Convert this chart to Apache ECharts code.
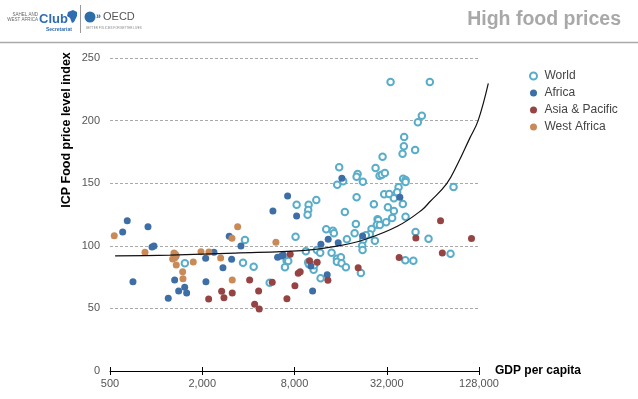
<!DOCTYPE html>
<html lang="en">
<head>
    <meta charset="UTF-8">
    <title>High food prices</title>
    <style>
        html, body { margin: 0; padding: 0; background: #fff; }
    </style>
</head>
<body>
    <div id="main" style="width: 638px;height:399px;"></div>
    <script src="https://cdn.jsdelivr.net/npm/echarts/dist/echarts.min.js"></script>
    <script type="text/javascript">
       // x axis is GDP per capita on a base-4 log scale starting at 500
       var xTickValues = [500, 2000, 8000, 32000, 128000];
       var xTickLabels = ['500', '2,000', '8,000', '32,000', '128,000'];
       var yTicks = [0, 50, 100, 150, 200, 250];
       var seriesNames = ['World', 'Africa', 'Asia & Pacific', 'West Africa'];

       // [GDP per capita, ICP food price level index]
       var world = [
           [1540, 86], [8260, 132.8], [9890, 132.8], [9830, 128.6], [9740, 124.8], [11100, 136.6],
           [17050, 127], [8130, 107.3], [3800, 104.6], [3690, 86.5], [4330, 83.3], [9490, 95.6],
           [11200, 96.6], [11770, 94.5], [12880, 113.2], [14250, 112.1], [14460, 110], [17580, 105.2],
           [20120, 117.4], [19740, 110], [22460, 104.6], [22120, 100.1], [22250, 96.6], [13970, 94.5],
           [7110, 88.1], [7280, 87.9], [6930, 82.8], [9830, 86.8], [9930, 85.2], [10660, 80.9],
           [10760, 84.4], [15130, 89.7], [16060, 90.8], [15130, 87.3], [16230, 86], [17320, 82.8],
           [11840, 74], [5510, 70.5], [21690, 78.3], [33890, 230.8], [61150, 230.8], [54220, 203.9],
           [51060, 198.6], [41570, 186.9], [41380, 179.5], [40580, 173.6], [49030, 176.5], [30050, 171.2],
           [15660, 162.7], [27050, 162.1], [20650, 157.3], [20340, 155.2], [22350, 151.2], [16630, 151.5],
           [15200, 148.8], [28720, 156], [29730, 156.8], [31110, 158.1], [40950, 153.6], [42450, 152.6],
           [42450, 151], [38220, 146.7], [37420, 142.7], [30780, 141.1], [33190, 141.4], [35620, 137.9],
           [20340, 138.7], [87300, 147], [40760, 133.4], [26370, 133.1], [32550, 130.7], [35620, 127.8],
           [42450, 123.2], [34710, 122.2], [27870, 121.2], [28150, 120.4], [27580, 116.8], [28850, 116.6],
           [31720, 118.8], [25470, 113.4], [24830, 109.2], [23380, 108.4], [26770, 104.1], [49330, 111],
           [59950, 105.7], [83450, 93.7], [42300, 88.4], [47730, 88.1]
       ];
       var africa = [
           [648, 120], [605, 111], [885, 115.3], [940, 99], [968, 99.8], [706, 71.3], [1200, 58.1],
           [1321, 72.7], [1403, 63.9], [1536, 66.9], [1582, 62.3], [2105, 90], [2114, 71.3], [2384, 94.8],
           [2730, 82.5], [3110, 89.2], [3000, 107.6], [1347, 91.9], [5785, 127.8], [8257, 123.8],
           [3577, 99.8], [6207, 90.8], [6590, 91.9], [6752, 92.6], [11895, 101.2], [13275, 105.2],
           [15425, 102.5], [10236, 83.9], [13075, 76.9], [10500, 63.9], [22250, 107.8], [16305, 153.9],
           [38965, 138.7], [7213, 139.8]
       ];
       var asiaPacific = [
           [2202, 57.5], [2677, 63.7], [2771, 58.5], [3139, 62.3], [7500, 93.2], [10035, 88.1],
           [11250, 86.8], [8460, 78], [8716, 79.3], [4076, 72.7], [5724, 70.8], [13215, 72.4],
           [8050, 68.1], [4666, 63.9], [7138, 57.7], [4394, 53.3], [4709, 49.5], [20830, 82.5],
           [71800, 120], [49550, 106.2], [114350, 105.8], [73760, 94.2], [38560, 90.7]
       ];
       var westAfrica = [
           [533, 108.1], [846, 94.8], [1308, 94.2], [1327, 93.4], [1347, 92.6], [1282, 89.5],
           [1327, 90.5], [1353, 84.7], [1490, 79.3], [1497, 73.7], [1747, 87.1], [1962, 95.3],
           [2212, 95], [2637, 90.3], [3125, 106], [3139, 72.7], [3404, 115.3], [6050, 102.8]
       ];
       // trend line (runs a little past 128,000)
       var trend = [
           [540, 92], [1230, 92.6], [3270, 94.2], [8940, 96.2], [15820, 100.2], [23000, 105],
           [37800, 115.8], [54220, 128.6], [61150, 135.2], [78600, 149.4], [93100, 165.7],
           [111500, 186], [126300, 200], [147200, 229.8]
       ];

       var colors = ['#5aadc9', '#3d6ea5', '#964443', '#c98a58'];
       var font = 'Helvetica, Arial, "Liberation Sans", sans-serif';

       function toX(g) {
           return Math.log(g / xTickValues[0]) / Math.log(4);
       }
       function conv(arr) {
           return arr.map(function (p) { return [toX(p[0]), p[1]]; });
       }

       var myChart = echarts.init(document.getElementById('main'));
       var xMax = xTickValues.length - 1;
       var gridLeft = 110, gridRight = 159, trendRight = 146;
       // second (hidden) grid, same scale, wider so the trend line is not cut at 128,000
       var trendMax = xMax * (638 - gridLeft - trendRight) / (638 - gridLeft - gridRight);

       var option = {
           animation: false,
           textStyle: { fontFamily: font },
           grid: [
               { left: gridLeft, right: gridRight, top: 58, bottom: 28, containLabel: false },
               { left: gridLeft, right: trendRight, top: 58, bottom: 28, containLabel: false }
           ],
           legend: {
               orient: 'vertical',
               left: 524,
               top: 65,
               itemWidth: 12,
               itemHeight: 7,
               itemGap: 5,
               textStyle: { color: '#444', fontSize: 12, fontFamily: font },
               data: [
                   { name: seriesNames[0], icon: 'emptyCircle' },
                   { name: seriesNames[1], icon: 'circle' },
                   { name: seriesNames[2], icon: 'circle' },
                   { name: seriesNames[3], icon: 'circle' }
               ]
           },
           xAxis: [{
               type: 'value',
               gridIndex: 0,
               min: 0,
               max: xMax,
               interval: 1,
               name: 'GDP per capita',
               nameLocation: 'end',
               nameGap: 16,
               nameTextStyle: { fontWeight: 'bold', fontSize: 12, color: '#000', fontFamily: font },
               axisLine: { lineStyle: { color: '#000', width: 1 } },
               axisTick: { length: 4, lineStyle: { color: '#000' } },
               axisLabel: {
                   color: '#555', fontSize: 11, margin: 7,
                   formatter: function (v) { return xTickLabels[Math.round(v)]; }
               },
               splitLine: { show: false }
           }, {
               type: 'value',
               gridIndex: 0,
               min: 0,
               max: xMax,
               interval: 1,
               position: 'bottom',
               axisLine: { show: false },
               axisTick: { inside: true, length: 4, lineStyle: { color: '#000' } },
               axisLabel: { show: false },
               splitLine: { show: false }
           }, {
               type: 'value',
               gridIndex: 1,
               min: 0,
               max: trendMax,
               show: false
           }],
           yAxis: [{
               type: 'value',
               gridIndex: 0,
               min: yTicks[0],
               max: yTicks[yTicks.length - 1],
               interval: yTicks[1] - yTicks[0],
               axisLine: { show: false },
               axisTick: { show: false },
               axisLabel: { color: '#555', fontSize: 11, margin: 10 },
               splitLine: {
                   lineStyle: { color: '#aaa', type: [3, 2], width: 1 }
               }
           }, {
               type: 'value',
               gridIndex: 1,
               min: yTicks[0],
               max: yTicks[yTicks.length - 1],
               show: false
           }],
           series: [{
               name: seriesNames[0],
               type: 'scatter',
               symbol: 'emptyCircle',
               symbolSize: 6.5,
               itemStyle: { color: colors[0], borderWidth: 1, opacity: 1 },
               data: conv(world)
           }, {
               name: seriesNames[1],
               type: 'scatter',
               symbolSize: 7,
               itemStyle: { color: colors[1], opacity: 1 },
               data: conv(africa)
           }, {
               name: seriesNames[2],
               type: 'scatter',
               symbolSize: 7,
               itemStyle: { color: colors[2], opacity: 1 },
               data: conv(asiaPacific)
           }, {
               name: seriesNames[3],
               type: 'scatter',
               symbolSize: 7,
               itemStyle: { color: colors[3], opacity: 1 },
               data: conv(westAfrica)
           }, {
               name: 'trend',
               type: 'line',
               xAxisIndex: 2,
               yAxisIndex: 1,
               smooth: 0.4,
               showSymbol: false,
               clip: false,
               lineStyle: { color: '#111', width: 1.2 },
               data: conv(trend),
               z: 5
           }],
           graphic: [
               // header rule and title
               { type: 'line', shape: { x1: 0, y1: 42.5, x2: 638, y2: 42.5 }, style: { stroke: '#aaa', lineWidth: 1.5 } },
               { type: 'text', x: 621, y: 20, style: { text: 'High food prices', fill: '#a8a8a8', font: 'bold 19.5px ' + font, textAlign: 'right', textVerticalAlign: 'middle' } },
               // logos
               { type: 'text', x: 38, y: 17.5, style: { text: 'SAHEL AND\nWEST AFRICA', fill: '#666', font: '4.5px ' + font, textAlign: 'right', textVerticalAlign: 'middle', lineHeight: 5 } },
               { type: 'text', x: 39, y: 19, style: { text: 'Club', fill: '#2f6cb1', font: 'bold 13px ' + font, textAlign: 'left', textVerticalAlign: 'middle' } },
               { type: 'polygon', shape: { points: [[68, 12], [73, 10], [77, 12], [77, 16], [74, 22], [72, 23], [70, 18], [67, 16]] }, style: { fill: '#2f6cb1' } },
               { type: 'text', x: 46, y: 30, style: { text: 'Secretariat', fill: '#2f6cb1', font: 'bold 5px ' + font, textAlign: 'left', textVerticalAlign: 'middle' } },
               { type: 'line', shape: { x1: 80.5, y1: 5, x2: 80.5, y2: 33 }, style: { stroke: '#999', lineWidth: 1 } },
               { type: 'circle', shape: { cx: 90, cy: 17, r: 5.5 }, style: { fill: '#2d6ea8' } },
               { type: 'text', x: 96, y: 17, style: { text: '»', fill: '#2d6ea8', font: 'bold 9px ' + font, textAlign: 'left', textVerticalAlign: 'middle' } },
               { type: 'text', x: 103, y: 17, style: { text: 'OECD', fill: '#555', font: '11px ' + font, textAlign: 'left', textVerticalAlign: 'middle' } },
               { type: 'text', x: 86, y: 28, style: { text: 'BETTER POLICIES FOR BETTER LIVES', fill: '#888', font: '3px ' + font, textAlign: 'left', textVerticalAlign: 'middle' } },
               // y axis title
               { type: 'text', x: 67, y: 130, rotation: Math.PI / 2, style: { text: 'ICP Food price level index', fill: '#000', font: 'bold 12.5px ' + font, textAlign: 'center', textVerticalAlign: 'middle' } }
           ]
       };
       myChart.setOption(option);
    </script>
</body>
</html>
